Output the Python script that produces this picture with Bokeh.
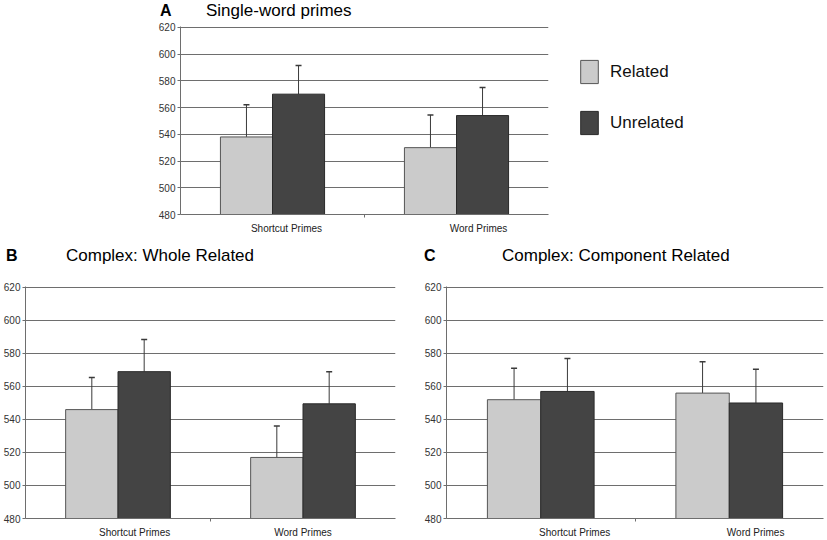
from bokeh.plotting import figure
from bokeh.models import (ColumnDataSource, FixedTicker, Whisker, TeeHead,
                          Legend, LegendItem, Range1d, Div)
from bokeh.layouts import column, row
from bokeh.embed import file_html
from bokeh.resources import INLINE

# ---------------- data ----------------
categories = ["Shortcut Primes", "Word Primes"]
y_ticks = [480, 500, 520, 540, 560, 580, 600, 620]
series_names = ["Related", "Unrelated"]

panel_letters = ["A", "B", "C"]
panel_titles = ["Single-word primes", "Complex: Whole Related", "Complex: Component Related"]

a_related = [538, 530]
a_related_err = [24, 24.5]
a_unrelated = [570, 554]
a_unrelated_err = [21.5, 21]

b_related = [546, 517]
b_related_err = [19.5, 19]
b_unrelated = [569, 549.5]
b_unrelated_err = [19.5, 19.5]

c_related = [552, 556]
c_related_err = [19, 19]
c_unrelated = [557, 550]
c_unrelated_err = [20, 20.5]

FONT = "Liberation Sans"
LIGHT = "#cbcbcb"
DARK = "#444444"
LIGHT_LINE = "#555555"
DARK_LINE = "#2a2a2a"
BAR_W = 0.283
GRID = "#6e6e6e"


def make_panel(width, height, borders, rel, rel_err, unrel, unrel_err, label_shift):
    left, right, top, bottom = borders
    p = figure(width=width, height=height, output_backend="svg", toolbar_location=None,
               x_range=Range1d(0, 2), y_range=Range1d(480, 620.6),
               min_border_left=left, min_border_right=right,
               min_border_top=top, min_border_bottom=bottom)
    p.outline_line_color = None
    p.background_fill_color = "white"
    p.border_fill_color = "white"
    p.xgrid.grid_line_color = None
    p.ygrid.ticker = FixedTicker(ticks=y_ticks)
    p.ygrid.grid_line_color = GRID
    p.ygrid.grid_line_width = 1

    ya = p.yaxis[0]
    ya.ticker = FixedTicker(ticks=y_ticks)
    ya.major_label_text_font = FONT
    ya.major_label_text_font_size = "10px"
    ya.major_label_text_color = "#333333"
    ya.axis_line_color = GRID
    ya.major_tick_line_color = GRID
    ya.major_tick_out = 3
    ya.major_tick_in = 0
    ya.minor_tick_line_color = None
    ya.major_label_standoff = 2

    xa = p.xaxis[0]
    label_pos = [i + 0.5 + label_shift[i] for i in range(len(categories))]
    xa.ticker = FixedTicker(ticks=label_pos, minor_ticks=[1.0])
    xa.major_label_overrides = {lp: c for lp, c in zip(label_pos, categories)}
    xa.major_tick_line_color = None
    xa.major_tick_out = 0
    xa.major_tick_in = 0
    xa.minor_tick_line_color = GRID
    xa.minor_tick_out = 3
    xa.minor_tick_in = 0
    xa.axis_line_color = GRID
    xa.major_label_text_font = FONT
    xa.major_label_text_font_size = "10px"
    xa.major_label_text_color = "#222222"
    xa.major_label_standoff = 5

    xs = [i + 0.5 for i in range(len(categories))]
    src_r = ColumnDataSource(dict(
        x=[x - BAR_W / 2 for x in xs], top=rel,
        up=[v + e for v, e in zip(rel, rel_err)]))
    src_u = ColumnDataSource(dict(
        x=[x + BAR_W / 2 for x in xs], top=unrel,
        up=[v + e for v, e in zip(unrel, unrel_err)]))

    p.vbar(x="x", top="top", bottom=480, width=BAR_W, source=src_r,
           fill_color=LIGHT, line_color=LIGHT_LINE, line_width=1)
    p.vbar(x="x", top="top", bottom=480, width=BAR_W, source=src_u,
           fill_color=DARK, line_color=DARK_LINE, line_width=1)

    for src in (src_r, src_u):
        p.add_layout(Whisker(source=src, base="x", lower="top", upper="up",
                             line_color="#3a3a3a", line_width=1,
                             upper_head=TeeHead(size=6, line_color="#3a3a3a", line_width=1.5),
                             lower_head=None))
    return p


def title_div(width, height, entries):
    spans = []
    for letter, title, lx, tx, top in entries:
        spans.append(
            f'<span style="position:absolute;left:{lx}px;top:{top + 1}px;font-weight:bold;'
            f'font-size:16px;line-height:16px;">{letter}</span>'
            f'<span style="position:absolute;left:{tx}px;top:{top}px;'
            f'font-size:17px;line-height:18px;">{title}</span>')
    html = (f'<div style="position:relative;width:{width}px;height:{height}px;'
            f'font-family:\'{FONT}\';color:#000;">' + "".join(spans) + '</div>')
    return Div(text=html, width=width, height=height, margin=0)


# Top section: titles row (y 0..20), panel A (y 20..240) + legend area
div_top = title_div(827, 20, [(panel_letters[0], panel_titles[0], 160, 206, 2)])
pa = make_panel(560, 220, (180, 12, 6, 26),
                a_related, a_related_err, a_unrelated, a_unrelated_err,
                label_shift=[0.076, 0.12])

# legend figure: its two swatch renderers carry no drawable data
pl = figure(width=267, height=220, output_backend="svg", toolbar_location=None,
            x_range=Range1d(0, 1), y_range=Range1d(0, 1),
            x_axis_location=None, y_axis_location=None,
            min_border_left=0, min_border_right=0, min_border_top=0, min_border_bottom=0)
pl.outline_line_color = None
pl.grid.grid_line_color = None
nan = float("nan")
lr1 = pl.vbar(x=[0.5], top=[nan], bottom=nan, width=0.1,
              fill_color=LIGHT, line_color=LIGHT_LINE, line_width=1)
lr2 = pl.vbar(x=[0.5], top=[nan], bottom=nan, width=0.1,
              fill_color=DARK, line_color=DARK_LINE, line_width=1)
legend = Legend(items=[LegendItem(label=series_names[0], renderers=[lr1]),
                       LegendItem(label=series_names[1], renderers=[lr2])],
                location=(18, 77), orientation="vertical",
                glyph_width=22, glyph_height=29, label_height=29,
                label_standoff=10, spacing=22, padding=0, margin=0,
                label_text_font=FONT, label_text_font_size="17px",
                label_text_baseline="middle", label_text_color="#111111",
                border_line_alpha=0, background_fill_alpha=0)
pl.add_layout(legend, "center")

# Bottom section: titles row (y 240..270), panels B and C (y 270..540)
div_bot = title_div(827, 30, [(panel_letters[1], panel_titles[1], 6, 66, 7),
                              (panel_letters[2], panel_titles[2], 424, 502, 7)])
pb = make_panel(415, 270, (25, 20, 16, 18),
                b_related, b_related_err, b_unrelated, b_unrelated_err,
                label_shift=[0.09, 0.0])
pc = make_panel(412, 270, (31, 4, 9, 20),
                c_related, c_related_err, c_unrelated, c_unrelated_err,
                label_shift=[0.18, 0.14])

layout = column(div_top, row(pa, pl), div_bot, row(pb, pc), spacing=0)
open("out.html", "w").write(file_html(layout, INLINE))
